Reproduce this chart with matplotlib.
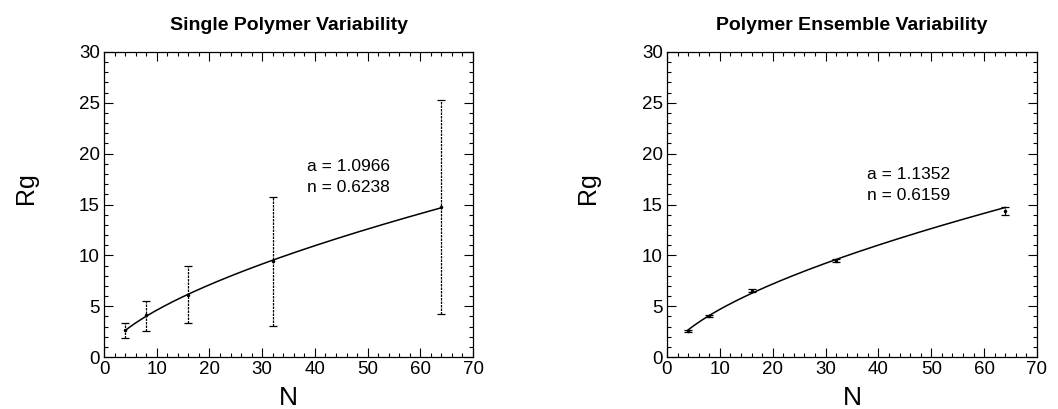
import matplotlib
matplotlib.use("Agg")
from matplotlib import pyplot as plt
from matplotlib.ticker import MultipleLocator
import numpy as np

plt.rcParams['font.family'] = ['Liberation Sans', 'DejaVu Sans']

# chain lengths
N = [4, 8, 16, 32, 64]

# Single polymer: mean Rg and error bar ends
single_rg = [2.65, 4.1, 6.15, 9.4, 14.75]
single_lo = [1.9, 2.55, 3.35, 3.05, 4.2]
single_hi = [3.3, 5.55, 8.95, 15.75, 25.3]
single_fit = (1.0966, 0.6238)

# Polymer ensemble: mean Rg and error bar ends
ens_rg = [2.6, 4.05, 6.5, 9.45, 14.4]
ens_lo = [2.5, 3.95, 6.35, 9.3, 13.95]
ens_hi = [2.7, 4.15, 6.65, 9.6, 14.8]
ens_fit = (1.1352, 0.6159)

titles = ["Single Polymer Variability", "Polymer Ensemble Variability"]


def panel(ax, rg, lo, hi, fit, title, tx, ty):
    rg = np.array(rg)
    yerr = [rg - np.array(lo), np.array(hi) - rg]
    eb = ax.errorbar(N, rg, yerr=yerr, fmt='.', color='black', ms=3,
                     elinewidth=0.9, capsize=3, capthick=0.9, ls='none')
    for c in eb[2]:
        c.set_linestyle((0, (2, 0.8)))
    # power-law fit Rg = a N^n, with the a and n printed on the chart
    a, n = fit
    xs = np.linspace(N[0], N[-1], 200)
    ax.plot(xs, a * xs ** n, color='black', lw=1.1)
    ax.text(tx, ty, "a = %.4f\nn = %.4f" % (a, n), fontsize=12.5,
            linespacing=1.5, va='center')
    ax.set_xlim(0, 70)
    ax.set_ylim(0, 30)
    ax.xaxis.set_major_locator(MultipleLocator(10))
    ax.xaxis.set_minor_locator(MultipleLocator(2))
    ax.yaxis.set_major_locator(MultipleLocator(5))
    ax.yaxis.set_minor_locator(MultipleLocator(1))
    ax.tick_params(which='both', direction='in', top=True, right=True,
                   width=0.8, labelsize=13.5)
    ax.tick_params(which='major', length=6.5, pad=3)
    ax.tick_params(which='minor', length=3)
    for s in ax.spines.values():
        s.set_linewidth(0.9)
    ax.set_title(title, fontsize=14, fontweight='bold', pad=16)
    ax.set_xlabel("N", fontsize=19)
    ax.set_ylabel("Rg", fontsize=18)
    ax.xaxis.set_label_coords(0.5, -0.095)
    ax.yaxis.set_label_coords(-0.18, 0.554)


fig = plt.figure(figsize=(10.58, 4.09), dpi=100)
ax1 = fig.add_axes([0.0983, 0.127, 0.3488, 0.746])
ax2 = fig.add_axes([0.6304, 0.127, 0.3497, 0.746])
panel(ax1, single_rg, single_lo, single_hi, single_fit, titles[0], 38.5, 17.75)
panel(ax2, ens_rg, ens_lo, ens_hi, ens_fit, titles[1], 37.8, 16.9)

plt.savefig("out.png", dpi=100)
